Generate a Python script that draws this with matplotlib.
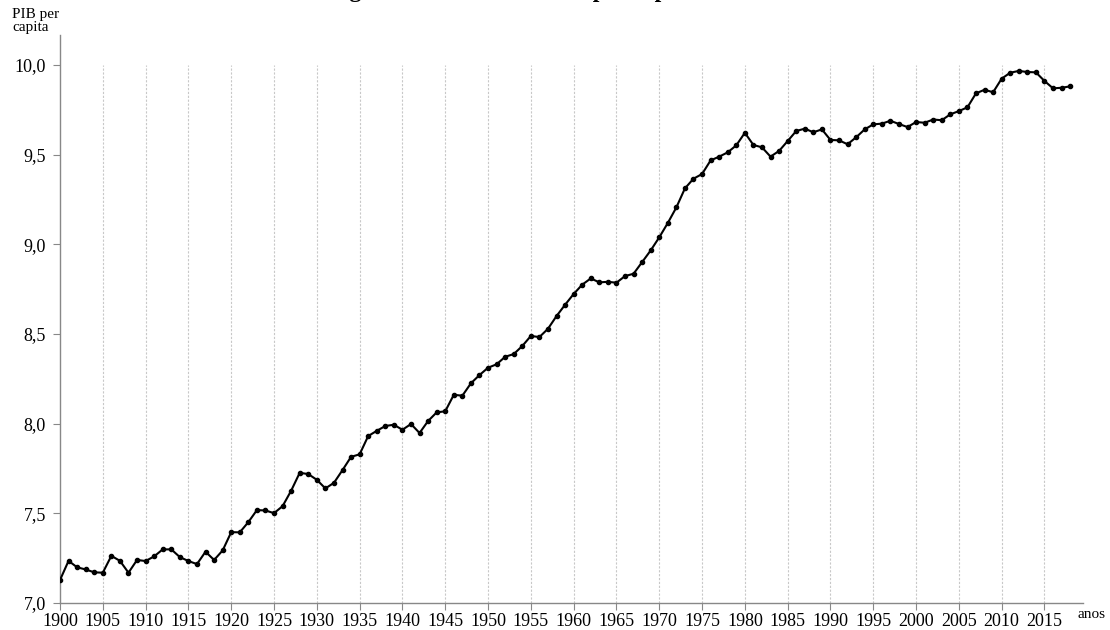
import matplotlib
matplotlib.use("Agg")
import matplotlib.pyplot as plt
import numpy as np

years = list(range(1900, 2019))
log_gdp_pc = [
    7.128, 7.235, 7.199, 7.187, 7.171, 7.169, 7.263, 7.235, 7.169, 7.240,
    7.234, 7.260, 7.299, 7.299, 7.256, 7.234, 7.217, 7.286, 7.240, 7.293,
    7.395, 7.394, 7.451, 7.518, 7.516, 7.501, 7.540, 7.626, 7.726, 7.719,
    7.687, 7.639, 7.670, 7.741, 7.815, 7.829, 7.931, 7.960, 7.987, 7.994,
    7.966, 7.998, 7.948, 8.015, 8.063, 8.069, 8.161, 8.156, 8.225, 8.271,
    8.312, 8.331, 8.373, 8.388, 8.433, 8.489, 8.483, 8.529, 8.600, 8.663,
    8.723, 8.775, 8.810, 8.788, 8.791, 8.786, 8.823, 8.836, 8.901, 8.966,
    9.039, 9.119, 9.206, 9.312, 9.366, 9.392, 9.468, 9.489, 9.513, 9.552,
    9.622, 9.554, 9.541, 9.489, 9.521, 9.576, 9.632, 9.645, 9.625, 9.641,
    9.582, 9.580, 9.558, 9.597, 9.641, 9.669, 9.673, 9.689, 9.671, 9.654,
    9.682, 9.678, 9.696, 9.692, 9.725, 9.743, 9.764, 9.842, 9.862, 9.848,
    9.924, 9.957, 9.967, 9.961, 9.959, 9.911, 9.870, 9.873, 9.881,
]
x_ticks = list(range(1900, 2016, 5))
y_ticks = [7.0, 7.5, 8.0, 8.5, 9.0, 9.5, 10.0]
y_tick_labels = ["7,0", "7,5", "8,0", "8,5", "9,0", "9,5", "10,0"]

plt.rcParams['font.family'] = ['Liberation Serif', 'DejaVu Serif']

W, H = 1110, 630
fig = plt.figure(figsize=(W / 100, H / 100), dpi=100)
ax = fig.add_axes([60 / W, (H - 603) / H, (1083 - 60) / W, (603 - 35) / H])

ax.vlines(x_ticks[1:], 7.0, 10.0, colors="#c8c8c8", linestyles=(0, (2, 1.5)), linewidth=0.8, zorder=1)
ax.plot(years, log_gdp_pc, color="black", linewidth=1.5, marker="o", markersize=3.0, zorder=3)

ax.set_xlim(1900, 2019.5)
ax.set_ylim(7.0, 10.0 + 30 / 179.3)
ax.set_xticks(x_ticks)
ax.set_xticklabels([str(x) for x in x_ticks], fontsize=13)
ax.set_yticks(y_ticks)
ax.set_yticklabels(y_tick_labels, fontsize=13)
ax.tick_params(axis="x", direction="out", length=5, width=0.8, color="#888888", pad=2)
ax.tick_params(axis="y", direction="out", length=5, width=0.8, color="#888888", pad=5)

for s in ["top", "right"]:
    ax.spines[s].set_visible(False)
for s in ["left", "bottom"]:
    ax.spines[s].set_color("#888888")
    ax.spines[s].set_linewidth(1.0)

fig.text(12 / W, 1 - 8 / H, "PIB per\ncapita", fontsize=11, ha="left", va="top", linespacing=1.0)
fig.text(1078 / W, 1 - 614 / H, "anos", fontsize=11, ha="left", va="center")
fig.text(322 / W, 1 + 2.5 / H, "Logaritmo natural do PIB per capita", fontsize=17,
         fontweight="bold", ha="left", va="baseline")

fig.savefig("out.png", dpi=100)
